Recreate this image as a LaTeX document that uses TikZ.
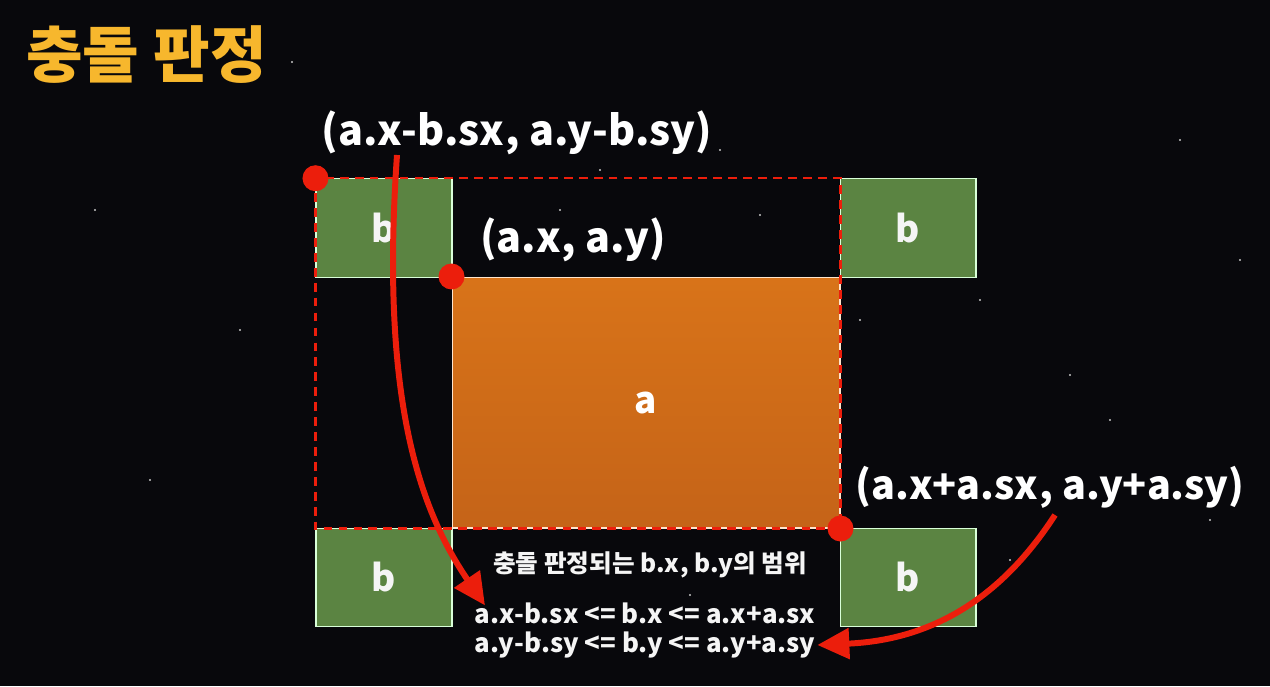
\documentclass[tikz,border=0pt]{standalone}
\usepackage{fontspec}
\setmainfont{Noto Sans CJK KR}
\usetikzlibrary{arrows.meta,positioning}
\definecolor{nightbg}{RGB}{8,8,12}
\definecolor{titleyellow}{RGB}{247,183,45}
\definecolor{boxgreen}{RGB}{91,132,66}
\definecolor{boxorange}{RGB}{214,108,26}
\definecolor{hitred}{RGB}{236,30,12}

\tikzset{
  bbox/.style={draw=white!85!green,line width=0.6pt,fill=boxgreen,minimum width=2.72cm,minimum height=1.97cm,
    text=white!92!gray,font=\bfseries\fontsize{21}{21}\selectfont},
  abox/.style={top color=boxorange!95!yellow,bottom color=boxorange!92!black,draw=white!80!orange,line width=0.6pt,
    minimum width=7.76cm,minimum height=5.02cm,text=white,font=\bfseries\fontsize{21}{21}\selectfont},
  hitdot/.style={circle,fill=hitred,inner sep=0pt,minimum size=0.52cm},
  coordlabel/.style={text=white,font=\bfseries\fontsize{23.5}{23.5}\selectfont,inner sep=1pt},
  rangetext/.style={text=white!92!gray,font=\bfseries\fontsize{14.7}{16}\selectfont,inner sep=1pt},
  hitarrow/.style={hitred,line width=3.4pt,-{Triangle[length=0.64cm,width=0.6cm]}}
}

\begin{document}
\begin{tikzpicture}[x=0.02cm,y=-0.02cm]
  % background
  \fill[nightbg] (0,0) rectangle (1270,686);
  \useasboundingbox (0,0) rectangle (1270,686);
  \foreach \sx/\sy in {292/62,720/150,1070/375,760/215,1180/140,980/300,1110/420,240/330,600/170,
                       1210/520,150/480,690/595,540/640,1010/560,860/320,560/210,1240/260,95/210}{
    \fill[gray!45] (\sx,\sy) circle (1.1);
  }

  % title
  \node[text=titleyellow,font=\bfseries\fontsize{35}{35}\selectfont,anchor=west] (title) at (20,55) {충돌 판정};

  % boxes
  \node[abox] (a) at (646,402.5) {a};
  \node[bbox] (btl) at (384,228) {b};
  \node[bbox] (btr) at (908,228) {b};
  \node[bbox] (bbl) at (384,577.5) {b};
  \node[bbox] (bbr) at (908,577.5) {b};

  % collision range
  \draw[hitred,line width=1.3pt,dash pattern=on 5pt off 3.5pt] (btl.north west) rectangle (a.south east);

  % corner points
  \node[hitdot] (dmin) at (btl.north west) {};
  \node[hitdot] (da) at (a.north west) {};
  \node[hitdot] (dmax) at (a.south east) {};

  % labels
  \node[coordlabel] (pmin) at (517,133) {(a.x-b.sx, a.y-b.sy)};
  \node[coordlabel,anchor=west] (pa) at (478,240) {(a.x, a.y)};
  \node[coordlabel,font=\bfseries\fontsize{22.5}{22.5}\selectfont] (pmax) at (1050,487) {(a.x+a.sx, a.y+a.sy)};

  % range text
  \node[rangetext,font=\bfseries\fontsize{14}{16}\selectfont] (rtitle) at (650,565) {충돌 판정되는 b.x, b.y의 범위};
  \node[rangetext] (fx) at (645,613) {a.x-b.sx <= b.x <= a.x+a.sx};
  \node[rangetext] (fy) at (645,645) {a.y-b.sy <= b.y <= a.y+a.sy};

  % arrows
  \coordinate (smin) at (397,155);
  \coordinate (smax) at (1055,515);
  \draw[hitarrow] (smin) .. controls (380,400) and (420,510) .. ([xshift=0.25cm,yshift=-0.1cm]fx.north west);
  \draw[hitarrow] (smax) .. controls (1000,600) and (930,640) .. (fy.east);
\end{tikzpicture}
\end{document}
